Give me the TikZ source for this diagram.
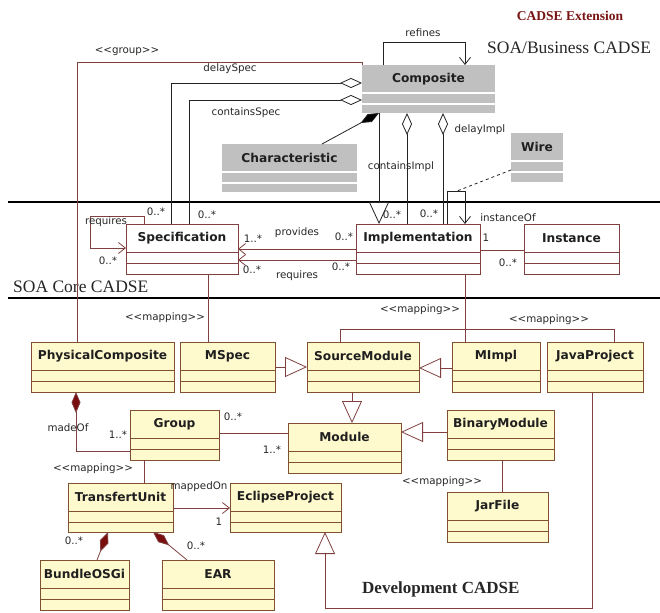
\documentclass[tikz,border=0pt]{standalone}
\usepackage{fontspec}
\setmainfont{Liberation Serif}
\newfontfamily\umlfont{DejaVu Sans}
\usetikzlibrary{arrows.meta,fit}
\definecolor{greybox}{RGB}{192,192,192}
\definecolor{coreline}{RGB}{128,64,64}
\definecolor{devfill}{RGB}{255,250,205}
\definecolor{devline}{RGB}{128,80,48}
\definecolor{darkdia}{RGB}{120,14,14}
\definecolor{titlered}{RGB}{120,20,20}
\definecolor{bizline}{RGB}{35,35,35}
\tikzset{
  bizbox/.style={fill=greybox, draw=none},
  corebox/.style={fill=white, draw=coreline, line width=0.9pt},
  devbox/.style={fill=devfill, draw=devline, line width=0.9pt},
  bizsep/.style={draw=white, line width=1.2pt},
  coresep/.style={draw=coreline, line width=0.9pt},
  devsep/.style={draw=devline, line width=0.9pt},
  clsname/.style={font=\umlfont\bfseries\fontsize{12.2}{14}\selectfont, inner sep=0pt, text=black!88},
  lab/.style={font=\umlfont\fontsize{10.3}{12}\selectfont, inner sep=0pt, text=black!85},
  biz/.style={draw=bizline, line width=0.8pt},
  core/.style={draw=coreline, line width=0.8pt},
  gentip/.style={-{Triangle[open, length=22pt, width=20pt, fill=white]}},
  navtip/.style={-{Straight Barb[length=7pt, width=11pt]}},
  aggtip/.style={{Diamond[open, length=22pt, width=10pt, fill=white]}-},
  comptip/.style={{Diamond[length=21pt, width=9pt]}-},
  separator/.style={draw=black, line width=1.8pt},
  cadse/.style={font=\fontsize{17.5}{20}\selectfont, inner sep=0pt, text=black!85},
}
\newcommand\umlclass[8]{%
  \node[#7, inner sep=0pt, outer sep=0pt, fit={(#2,#3)(#4,#5)}] (#1) {};
  \draw[#8] (#2,{#3+28}) -- (#4,{#3+28}) (#2,{#3+39}) -- (#4,{#3+39});
  \node[clsname] (#1-name) at ({(#2+#4)/2},{#3+14}) {#6};
}
\begin{document}
\begin{tikzpicture}[x=1pt,y=-1pt]
\useasboundingbox (0,0) rectangle (660,612);

% section separators
\draw[separator] (8,202) coordinate (sepA1) -- (660,202) coordinate (sepA2);
\draw[separator] (8,298) coordinate (sepB1) -- (660,298) coordinate (sepB2);

% titles
\node[font=\bfseries\fontsize{13.5}{16}\selectfont, text=titlered, inner sep=0pt] (t-ext) at (570,16) {CADSE Extension};
\node[cadse, anchor=west] (t-biz) at (487,48) {SOA/Business CADSE};
\node[cadse, anchor=west] (t-core) at (13,287) {SOA Core CADSE};
\node[cadse, font=\bfseries\fontsize{17}{20}\selectfont, anchor=west] (t-dev) at (362,589) {Development CADSE};

% ---------- classes ----------
\umlclass{comp}{362}{65}{495}{113}{Composite}{bizbox}{bizsep}
\umlclass{char}{222}{144}{357}{192}{Characteristic}{bizbox}{bizsep}
\umlclass{wire}{511}{133}{563}{182}{Wire}{bizbox}{bizsep}
\umlclass{spec}{126}{224}{238}{274}{Specification}{corebox}{coresep}
\umlclass{impl}{356}{224}{480}{274}{Implementation}{corebox}{coresep}
\umlclass{inst}{524}{224}{619}{274}{Instance}{corebox}{coresep}
\umlclass{pc}{31}{342}{174}{392}{PhysicalComposite}{devbox}{devsep}
\umlclass{mspec}{180}{342}{275}{392}{MSpec}{devbox}{devsep}
\umlclass{sm}{307}{342}{419}{392}{SourceModule}{devbox}{devsep}
\umlclass{mimpl}{452}{342}{540}{392}{MImpl}{devbox}{devsep}
\umlclass{jp}{547}{342}{643}{392}{JavaProject}{devbox}{devsep}
\umlclass{grp}{130}{410}{219}{460}{Group}{devbox}{devsep}
\umlclass{mod}{288}{423}{401}{473}{Module}{devbox}{devsep}
\umlclass{bm}{447}{410}{554}{460}{BinaryModule}{devbox}{devsep}
\umlclass{tu}{68}{483}{173}{532}{TransfertUnit}{devbox}{devsep}
\umlclass{ep}{230}{483}{341}{532}{EclipseProject}{devbox}{devsep}
\umlclass{jar}{447}{492}{548}{542}{JarFile}{devbox}{devsep}
\umlclass{bun}{40}{560}{129}{610}{BundleOSGi}{devbox}{devsep}
\umlclass{ear}{162}{560}{274}{610}{EAR}{devbox}{devsep}

% ---------- business connectors ----------
% refines
\draw[biz, navtip] (comp.north -| 383,0) -- (383,42) -- (465,42) -- (comp.north -| 465,0);
\node[lab] (l-ref) at (423,33) {refines};
% group
\draw[core] (comp.north west) -- (362,62) -- (77,62) -- (pc.north -| 77,0);
\node[lab] (l-grp) at (127,52) {<<group>>};
% delaySpec / containsSpec
\draw[biz, aggtip] (comp.west |- 0,83) -- (171,83) -- (spec.north -| 171,0);
\node[lab] (l-ds) at (230,69) {delaySpec};
\draw[biz, aggtip] (comp.west |- 0,100) -- (189,100) -- (spec.north -| 189,0);
\node[lab] (l-cs) at (246,113) {containsSpec};
\node[lab] (l-cs-m) at (207,215) {0..*};
% characteristic composition
\draw[biz, comptip, {Diamond[length=21pt, width=9pt, fill=black]}-] (comp.south -| 379,0) -- (char.north -| 322,0);
% Composite is an Implementation
\draw[biz, gentip] (comp.south -| 379,0) -- (impl.north -| 379,0);
% containsImpl / delayImpl
\draw[biz, aggtip] (comp.south -| 407,0) -- (impl.north -| 407,0);
\node[lab, fill=greybox!0, fill opacity=0, text opacity=1] (l-ci) at (401,167) {containsImpl};
\node[lab] (l-ci-m) at (392,215) {0..*};
\draw[biz, aggtip] (comp.south -| 443,0) -- (impl.north -| 443,0);
\node[lab] (l-di) at (480,130) {delayImpl};
\node[lab] (l-di-m) at (429,214) {0..*};
% wire loop
\draw[biz, navtip] (impl.north -| 447,0) -- (447,191) -- (465,191) -- (impl.north -| 465,0);
\coordinate (loopmid) at (457,191);
\draw[biz, dashed, dash pattern=on 3pt off 3pt] (wire.west |- 0,170) -- (loopmid);

% ---------- core connectors ----------
\draw[core, navtip] (spec.north -| 144,0) -- (144,216) -- (90,216) -- (90,248) -- (spec.west |- 0,248);
\node[lab] (l-sreq) at (106,222) {requires};
\node[lab] (l-sreq-a) at (156,212) {0..*};
\node[lab] (l-sreq-b) at (108,261) {0..*};

\draw[core, navtip] (impl.west |- 0,249) -- (spec.east |- 0,249);
\node[lab] (l-prov) at (297,233) {provides};
\node[lab] (l-prov-a) at (253,239) {1..*};
\node[lab] (l-prov-b) at (344,237) {0..*};
\draw[core, navtip] (impl.west |- 0,260) -- (spec.east |- 0,260);
\node[lab] (l-req) at (297,276) {requires};
\node[lab] (l-req-a) at (252,270) {0..*};
\node[lab] (l-req-b) at (341,267) {0..*};

\draw[core] (impl.east |- 0,250) -- (inst.west |- 0,250);
\node[lab] (l-io) at (508,218) {instanceOf};
\node[lab] (l-io-a) at (486,238) {1};
\node[lab] (l-io-b) at (508,263) {0..*};

% mappings core -> dev
\draw[core] (spec.south -| 208,0) -- (mspec.north -| 208,0);
\node[lab] (l-m1) at (165,318) {<<mapping>>};
\draw[core] (impl.south -| 465,0) -- (mimpl.north -| 465,0);
\node[lab] (l-m2) at (420,310) {<<mapping>>};

% ---------- development connectors ----------
\draw[core] (sm.north -| 340,0) -- (340,329) -- (614,329) -- (jp.north -| 614,0);
\node[lab] (l-m3) at (549,320) {<<mapping>>};
\draw[core, gentip] (mspec.east |- 0,367) -- (sm.west |- 0,367);
\draw[core, gentip] (mimpl.west |- 0,368) -- (sm.east |- 0,368);
\draw[core, gentip] (sm.south -| 352,0) -- (mod.north -| 352,0);
\draw[core, gentip] (bm.west |- 0,432) -- (mod.east |- 0,432);

\draw[core, {Diamond[length=21pt, width=9pt, fill=darkdia]}-] (pc.south -| 76,0) -- (76,451) -- (grp.west |- 0,451);
\node[lab] (l-mo) at (68,428) {madeOf};
\node[lab] (l-mo-m) at (118,435) {1..*};

\draw[core] (grp.east |- 0,433) -- (mod.west |- 0,433);
\node[lab] (l-gm-a) at (233,417) {0..*};
\node[lab] (l-gm-b) at (272,450) {1..*};

\draw[core] (grp.south -| 144,0) -- (tu.north -| 144,0);
\node[lab] (l-m4) at (93,469) {<<mapping>>};

\draw[core, navtip] (tu.east |- 0,508) -- (ep.west |- 0,508);
\node[lab] (l-mon) at (199,487) {mappedOn};
\node[lab] (l-mon-m) at (219,522) {1};

\draw[core, {Diamond[length=21pt, width=9pt, fill=darkdia]}-] (tu.south -| 108,0) -- (bun.north -| 97,0);
\node[lab] (l-bun-m) at (74,541) {0..*};
\draw[core, {Diamond[length=21pt, width=9pt, fill=darkdia]}-] (tu.south -| 153,0) -- (ear.north -| 187,0);
\node[lab] (l-ear-m) at (196,546) {0..*};

\draw[core] (bm.south -| 502,0) -- (jar.north -| 502,0);
\node[lab] (l-m5) at (442,482) {<<mapping>>};

\draw[core, gentip] (jp.south -| 592,0) -- (592,608) -- (325,608) -- (ep.south -| 325,0);
\end{tikzpicture}
\end{document}
